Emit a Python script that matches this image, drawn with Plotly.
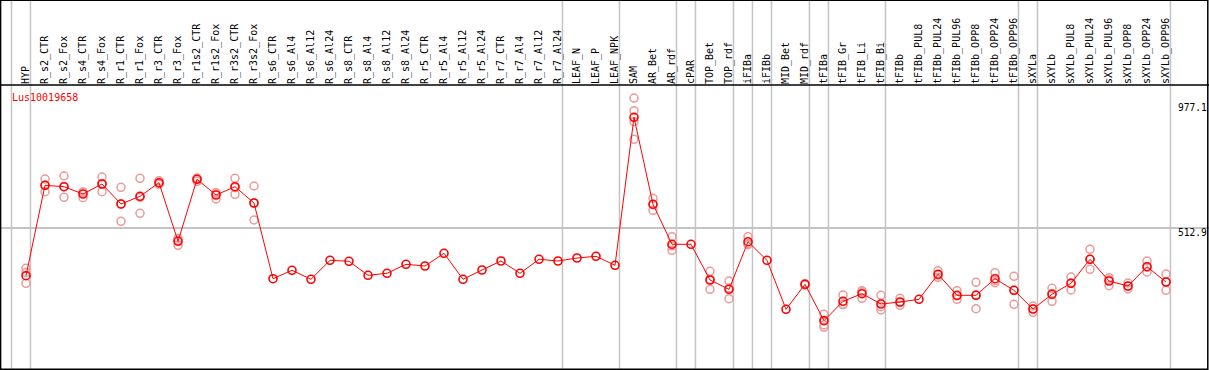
import plotly.graph_objects as go

gene = "Lus10019658"

categories = [
    "HYP", "R_s2_CTR", "R_s2_Fox", "R_s4_CTR", "R_s4_Fox", "R_r1_CTR", "R_r1_Fox",
    "R_r3_CTR", "R_r3_Fox", "R_r1s2_CTR", "R_r1s2_Fox", "R_r3s2_CTR", "R_r3s2_Fox",
    "R_s6_CTR", "R_s6_Al4", "R_s6_Al12", "R_s6_Al24", "R_s8_CTR", "R_s8_Al4", "R_s8_Al12",
    "R_s8_Al24", "R_r5_CTR", "R_r5_Al4", "R_r5_Al12", "R_r5_Al24", "R_r7_CTR", "R_r7_Al4",
    "R_r7_Al12", "R_r7_Al24", "LEAF_N", "LEAF_P", "LEAF_NPK", "SAM", "AR_Bet", "AR_rdf",
    "cPAR", "TOP_Bet", "TOP_rdf", "iFIBa", "iFIBb", "MID_Bet", "MID_rdf", "tFIBa",
    "tFIB_Gr", "tFIB_Li", "tFIB_Bi", "tFIBb", "tFIBb_PUL8", "tFIBb_PUL24", "tFIBb_PUL96",
    "tFIBb_OPP8", "tFIBb_OPP24", "tFIBb_OPP96", "sXYLa", "sXYLb", "sXYLb_PUL8",
    "sXYLb_PUL24", "sXYLb_PUL96", "sXYLb_OPP8", "sXYLb_OPP24", "sXYLb_OPP96",
]

mean_values = [
    344.1, 666.2, 661.2, 635.2, 670.8, 599.6, 627.0, 675.4, 466.7, 687.6, 631.6, 661.2, 603.1,
    333.5, 363.4, 331.3, 399.0, 395.4, 345.6, 352.7, 384.8, 378.7, 423.9, 331.3, 364.4,
    396.5, 352.7, 402.6, 396.5, 407.2, 413.3, 381.2, 908.4, 598.5, 456.0, 456.0, 328.8,
    295.7, 465.3, 399.0, 224.4, 313.5, 183.8, 252.9, 280.0, 243.3, 250.4, 260.1, 349.1,
    274.3, 274.3, 333.5, 292.1, 225.5, 277.9, 317.1, 402.6, 325.3, 307.4, 376.2, 321.7,
]

replicates = [
    [370.5, 355.5, 317.1], [688.6, 666.0, 643.4], [699.3, 661.0, 623.4], [642.3, 622.0, 641.0],
    [695.8, 643.4, 673.0], [659.1, 600.0, 537.9], [691.1, 623.0, 566.4], [682.6, 669.8, 674.0],
    [477.4, 452.4, 470.0], [691.1, 680.4, 691.0], [639.8, 617.4, 637.0], [691.1, 634.1, 658.0],
    [663.7, 542.6, 603.0],
    [], [], [], [], [], [], [], [], [], [], [], [], [], [], [], [], [], [], [],
    [977.1, 932.0, 892.8, 830.1], [619.9, 577.1, 598.0], [483.1, 434.6, 450.0], [],
    [359.8, 295.7, 331.0], [325.3, 262.2, 300.0], [483.1, 454.6, 458.0], [], [],
    [316.0, 311.0], [206.6, 185.0, 168.5, 160.3], [275.4, 242.3, 241.0],
    [290.7, 263.6, 285.7], [274.3, 221.9, 233.7], [263.6, 238.7, 249.0], [],
    [361.9, 338.4, 347.0], [290.7, 260.1, 272.0], [320.6, 226.6, 275.7],
    [354.8, 319.2, 326.5], [342.0, 242.3, 292.0], [236.2, 213.8, 226.0],
    [299.3, 252.9, 281.0], [339.5, 293.2, 318.0], [438.2, 366.9, 402.6],
    [337.0, 308.5, 330.0], [318.1, 296.8, 307.0], [396.5, 357.3, 375.0],
    [350.2, 292.1, 323.0],
]

# group boundaries (separator after these category indices)
group_ends = [-1, 0, 28, 31, 34, 35, 37, 38, 39, 41, 42, 45, 52, 53, 60]

scale_labels = [977.1, 512.9, 0]
grid_values = [512.9]

W, H = 1209, 370
header_px = 85

rep_x, rep_y = [], []
for cat, reps in zip(categories, replicates):
    for v in reps:
        rep_x.append(cat)
        rep_y.append(v)

fig = go.Figure()
fig.add_trace(go.Scatter(
    x=rep_x, y=rep_y, mode="markers",
    marker=dict(symbol="circle-open", size=8, color="#eb9a9a", line=dict(width=1.5, color="#eb9a9a")),
    hoverinfo="skip", showlegend=False,
))
fig.add_trace(go.Scatter(
    x=categories, y=mean_values, mode="lines+markers",
    line=dict(color="#ff0000", width=1),
    marker=dict(symbol="circle-open", size=8, color="#ff0000", line=dict(width=1.6, color="#ff0000")),
    showlegend=False,
))

shapes = []
for g in group_ends:
    xv = g + 0.235
    shapes.append(dict(type="line", xref="x", yref="paper", x0=xv, x1=xv, y0=0, y1=1,
                       line=dict(color="#c4c4c4", width=1.5), layer="below"))
ydom_top = (H - header_px) / H
shapes.append(dict(type="line", xref="paper", yref="paper", x0=0, x1=1, y0=ydom_top, y1=ydom_top,
                   line=dict(color="#000000", width=1.5)))
shapes.append(dict(type="rect", xref="paper", yref="paper", x0=0.0005, x1=0.999, y0=0.002, y1=0.999,
                   line=dict(color="#000000", width=1.5)))

annotations = [dict(text=gene, xref="paper", yref="paper", x=10 / W, y=1 - 97 / H,
                    xanchor="left", yanchor="middle", showarrow=False,
                    font=dict(family="DejaVu Sans Mono", size=10, color="#ff0000"))]
yshifts = [-9, -4, 10]
for v, ys in zip(scale_labels, yshifts):
    annotations.append(dict(text=f"{v:g}", xref="paper", yref="y", x=1176 / W, y=v,
                            xanchor="left", yanchor="middle", yshift=ys, showarrow=False,
                            font=dict(family="DejaVu Sans Mono", size=9.6, color="#000000")))

fig.update_layout(
    width=W, height=H,
    margin=dict(l=0, r=0, t=0, b=0),
    paper_bgcolor="white", plot_bgcolor="white",
    shapes=shapes, annotations=annotations,
    xaxis=dict(
        type="category", categoryorder="array", categoryarray=categories,
        range=[-26 / 19, (W - 26) / 19], side="top", tickangle=-90,
        tickfont=dict(family="DejaVu Sans Mono", size=10, color="#000000"),
        showgrid=False, zeroline=False, showline=False, ticks="",
        domain=[0, 1],
    ),
    yaxis=dict(
        range=[8.2, 1023.5], domain=[0, ydom_top],
        tickvals=grid_values, showticklabels=False, showgrid=True,
        gridcolor="#c4c4c4", gridwidth=1.5, zeroline=False, showline=False, ticks="",
    ),
)

fig.write_html(
    "out.html",
    config={"displayModeBar": False},
    post_script="document.body.style.margin='0px';document.body.style.overflow='hidden';",
)
